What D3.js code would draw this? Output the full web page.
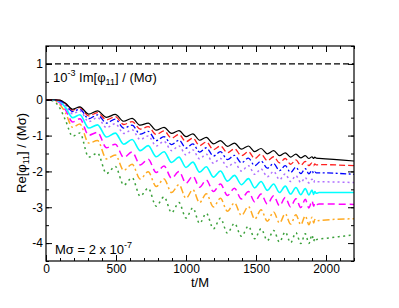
<!DOCTYPE html>
<html><head><meta charset="utf-8">
<script src="https://cdn.jsdelivr.net/npm/d3@7"></script>
<style>
body{margin:0;background:#fff;}
svg{display:block;font-family:"Liberation Sans",Arial,Helvetica,sans-serif;}
</style></head>
<body>
<svg id="chart" width="399" height="308"></svg>
<script>
// shared sample times (t/M): start, oscillation extrema, merger burst, tail
const times = [0, 50, 100, 140,
  190, 242, 305, 368, 432, 495, 555, 615, 673, 730, 787, 843, 897, 950,
  1000, 1049, 1097, 1145, 1196, 1246, 1296, 1346, 1396, 1446, 1491, 1536,
  1581, 1626, 1668, 1709, 1747, 1785, 1820, 1852, 1878, 1900,
  1912, 1920, 1930, 1950, 2200];

const seriesBlack = [0, 0, -0.01, -0.10,
  -0.265, -0.20, -0.40, -0.31, -0.49, -0.41, -0.60, -0.52, -0.71, -0.65, -0.85, -0.77, -0.94, -0.86,
  -1.03, -0.95, -1.13, -1.05, -1.23, -1.14, -1.30, -1.21, -1.38, -1.29, -1.45, -1.36,
  -1.51, -1.42, -1.56, -1.48, -1.60, -1.52, -1.62, -1.56, -1.64, -1.59,
  -1.64, -1.60, -1.63, -1.635, -1.71];
const seriesRed = [0, 0, -0.02, -0.11,
  -0.29, -0.22, -0.45, -0.36, -0.56, -0.47, -0.69, -0.61, -0.82, -0.75, -0.97, -0.87, -1.07, -0.97,
  -1.17, -1.07, -1.28, -1.18, -1.39, -1.29, -1.48, -1.37, -1.56, -1.45, -1.64, -1.52,
  -1.70, -1.59, -1.76, -1.64, -1.80, -1.68, -1.83, -1.72, -1.84, -1.76,
  -1.84, -1.79, -1.82, -1.81, -1.84];
const seriesBlue = [0, 0, -0.03, -0.13,
  -0.33, -0.26, -0.53, -0.42, -0.65, -0.54, -0.79, -0.71, -0.96, -0.88, -1.14, -1.03, -1.25, -1.13,
  -1.35, -1.23, -1.46, -1.34, -1.57, -1.45, -1.67, -1.55, -1.76, -1.63, -1.84, -1.71,
  -1.91, -1.78, -1.98, -1.84, -2.03, -1.88, -2.06, -1.92, -2.07, -1.97,
  -2.06, -2.01, -2.04, -2.04, -2.08];
const seriesViolet = [0, 0, -0.04, -0.16,
  -0.39, -0.31, -0.61, -0.50, -0.78, -0.67, -0.94, -0.84, -1.11, -1.01, -1.29, -1.16, -1.42, -1.29,
  -1.54, -1.40, -1.65, -1.52, -1.77, -1.64, -1.88, -1.75, -1.99, -1.84, -2.08, -1.93,
  -2.15, -2.00, -2.23, -2.07, -2.28, -2.12, -2.31, -2.17, -2.32, -2.22,
  -2.31, -2.26, -2.29, -2.29, -2.31];
const seriesCyan = [0, 0, -0.06, -0.22,
  -0.50, -0.42, -0.79, -0.70, -1.04, -0.93, -1.24, -1.11, -1.42, -1.28, -1.59, -1.45, -1.75, -1.60,
  -1.89, -1.74, -2.02, -1.87, -2.16, -1.99, -2.27, -2.11, -2.37, -2.20, -2.46, -2.28,
  -2.53, -2.35, -2.59, -2.41, -2.63, -2.45, -2.65, -2.48, -2.66, -2.52,
  -2.64, -2.56, -2.61, -2.59, -2.59];
const seriesMagenta = [0, 0, -0.09, -0.29,
  -0.62, -0.53, -0.99, -0.91, -1.34, -1.24, -1.61, -1.46, -1.82, -1.66, -2.03, -1.85, -2.19, -2.00,
  -2.33, -2.13, -2.44, -2.24, -2.56, -2.35, -2.67, -2.47, -2.77, -2.56, -2.85, -2.63,
  -2.91, -2.68, -2.96, -2.73, -2.99, -2.76, -3.01, -2.78, -3.02, -2.82,
  -2.97, -2.88, -2.93, -2.91, -2.92];
const seriesOrange = [0, -0.01, -0.14, -0.37,
  -0.77, -0.68, -1.21, -1.14, -1.65, -1.54, -1.97, -1.80, -2.21, -2.01, -2.42, -2.21, -2.59, -2.37,
  -2.75, -2.51, -2.87, -2.62, -2.99, -2.75, -3.11, -2.88, -3.23, -2.98, -3.33, -3.07,
  -3.39, -3.13, -3.44, -3.18, -3.47, -3.21, -3.49, -3.24, -3.49, -3.28,
  -3.44, -3.34, -3.39, -3.37, -3.32];
const seriesGreen = [0, -0.03, -0.24, -0.58,
  -1.02, -0.93, -1.60, -1.49, -2.06, -1.86, -2.38, -2.18, -2.69, -2.47, -2.97, -2.71, -3.15, -2.87,
  -3.30, -3.02, -3.45, -3.17, -3.60, -3.31, -3.72, -3.45, -3.81, -3.53, -3.88, -3.60,
  -3.93, -3.65, -3.97, -3.69, -3.99, -3.71, -4.01, -3.74, -4.01, -3.77,
  -3.95, -3.85, -3.90, -3.89, -3.77];

const imLevel = [1];
const xTicks = [0, 500, 1000, 1500, 2000];
const yTicks = [-4, -3, -2, -1, 0, 1];

const styles = [
  {v: seriesBlack,   color: "#000000", dash: null,        w: 1.2},
  {v: seriesRed,     color: "#ff2020", dash: "6,3",       w: 1.3},
  {v: seriesBlue,    color: "#0000ff", dash: "6,2.5,2,2.5", w: 1.3},
  {v: seriesViolet,  color: "#b070ff", dash: "2,3",       w: 1.5},
  {v: seriesCyan,    color: "#00ffff", dash: null,        w: 1.6},
  {v: seriesMagenta, color: "#ff00ff", dash: "7,4",       w: 1.5},
  {v: seriesOrange,  color: "#ffaa22", dash: "7,3,2,3",   w: 1.5},
  {v: seriesGreen,   color: "#3aa03a", dash: "2,3.5",     w: 1.5}
];

const W = 399, H = 308;
const m = {l: 46, t: 46, r: 45, b: 47};
const svg = d3.select("#chart");
const x = d3.scaleLinear().domain([0, 2200]).range([m.l, W - m.r]);
const y = d3.scaleLinear().domain([-4.5, 1.5]).range([H - m.b, m.t]);

const g = svg.append("g");
svg.append("clipPath").attr("id", "clip").append("rect")
  .attr("x", m.l).attr("y", m.t).attr("width", W - m.l - m.r).attr("height", H - m.t - m.b);

const line = d3.line().x((d, i) => x(times[i])).y(d => y(d)).curve(d3.curveMonotoneX);
const plot = g.append("g").attr("clip-path", "url(#clip)");

// dashed Im line
plot.selectAll("line.im").data(imLevel).enter().append("line")
  .attr("x1", x(0)).attr("x2", x(2200)).attr("y1", d => y(d)).attr("y2", d => y(d))
  .attr("stroke", "#000").attr("stroke-width", 1.2).attr("stroke-dasharray", "6,3");

styles.slice().reverse().forEach(s => {
  plot.append("path").datum(s.v).attr("d", line)
    .attr("fill", "none").attr("stroke", s.color).attr("stroke-width", s.w)
    .attr("stroke-dasharray", s.dash).attr("stroke-linejoin", "round");
});

// axes with inward ticks
const xMinor = d3.range(0, 2201, 100);
const yMinor = d3.range(-4.5, 1.51, 0.5);
function styleAxis(sel) { sel.select(".domain").remove(); sel.selectAll("line").attr("stroke", "#000").attr("stroke-width", 1); }

g.append("g").attr("transform", `translate(0,${H - m.b})`)
  .call(d3.axisBottom(x).tickValues(xMinor).tickSize(-3).tickFormat("")).call(styleAxis);
g.append("g").attr("transform", `translate(0,${m.t})`)
  .call(d3.axisTop(x).tickValues(xMinor).tickSize(-3).tickFormat("")).call(styleAxis);
g.append("g").attr("transform", `translate(${m.l},0)`)
  .call(d3.axisLeft(y).tickValues(yMinor).tickSize(-3).tickFormat("")).call(styleAxis);
g.append("g").attr("transform", `translate(${W - m.r},0)`)
  .call(d3.axisRight(y).tickValues(yMinor).tickSize(-3).tickFormat("")).call(styleAxis);

const xb = g.append("g").attr("transform", `translate(0,${H - m.b})`)
  .call(d3.axisBottom(x).tickValues(xTicks).tickSize(-6).tickPadding(3).tickFormat(d3.format("d"))).call(styleAxis);
g.append("g").attr("transform", `translate(0,${m.t})`)
  .call(d3.axisTop(x).tickValues(xTicks).tickSize(-6).tickFormat("")).call(styleAxis);
const yl = g.append("g").attr("transform", `translate(${m.l},0)`)
  .call(d3.axisLeft(y).tickValues(yTicks).tickSize(-6).tickPadding(3).tickFormat(d => d < 0 ? "-" + Math.abs(d) : d)).call(styleAxis);
g.append("g").attr("transform", `translate(${W - m.r},0)`)
  .call(d3.axisRight(y).tickValues(yTicks).tickSize(-6).tickFormat("")).call(styleAxis);
[xb, yl].forEach(a => a.selectAll("text").attr("font-size", 12).attr("fill", "#000")
  .attr("font-family", "Liberation Sans, Arial, sans-serif"));

// frame
g.append("rect").attr("x", m.l).attr("y", m.t).attr("width", W - m.l - m.r).attr("height", H - m.t - m.b)
  .attr("fill", "none").attr("stroke", "#000").attr("stroke-width", 1.2);

// labels
const fs = 13;
const t1 = g.append("text").attr("x", 53).attr("y", 82).attr("font-size", fs);
t1.append("tspan").text("10");
t1.append("tspan").attr("dy", -6).attr("font-size", 9).text("-3");
t1.append("tspan").attr("dy", 6).text(" Im[φ");
t1.append("tspan").attr("dy", 3).attr("font-size", 9).text("11");
t1.append("tspan").attr("dy", -3).text("] / (Mσ)");

const t2 = g.append("text").attr("x", 55).attr("y", 254).attr("font-size", fs);
t2.append("tspan").text("Mσ = 2 x 10");
t2.append("tspan").attr("dy", -6).attr("font-size", 9).text("-7");

g.append("text").attr("x", 200).attr("y", 287).attr("text-anchor", "middle").attr("font-size", fs).text("t/M");

const yt = g.append("text").attr("transform", "translate(26,153) rotate(-90)")
  .attr("text-anchor", "middle").attr("font-size", fs);
yt.append("tspan").text("Re[φ");
yt.append("tspan").attr("dy", 3).attr("font-size", 9).text("11");
yt.append("tspan").attr("dy", -3).text("] / (Mσ)");
</script>
</body></html>
